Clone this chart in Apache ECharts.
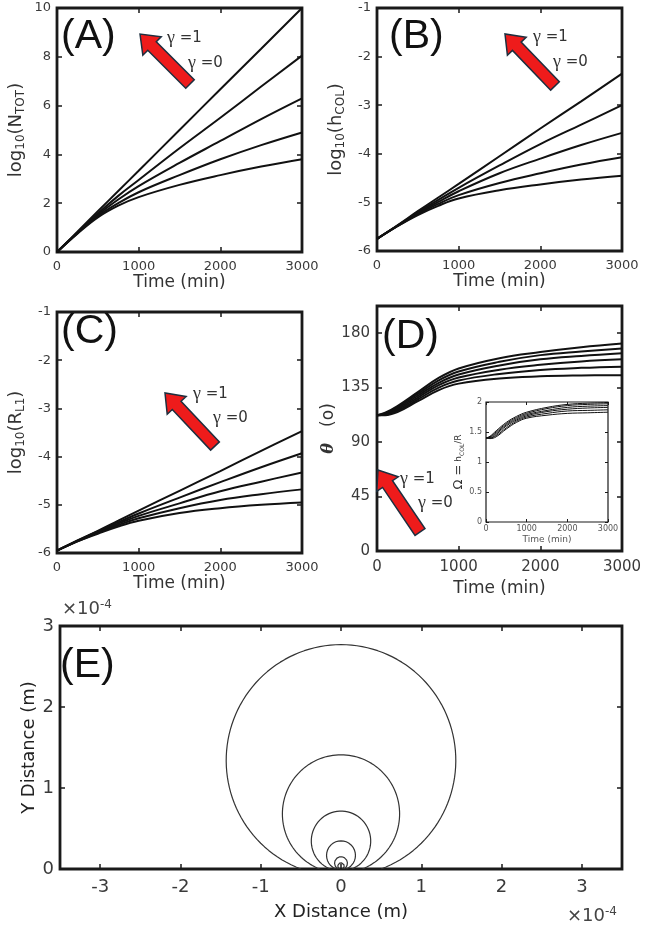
<!DOCTYPE html>
<html>
<head>
<meta charset="utf-8">
<script src="https://cdn.jsdelivr.net/npm/echarts@6/dist/echarts.min.js"></script>
<style>
  html, body { margin: 0; padding: 0; background: #fff; }
  #main { width: 645px; height: 926px; }
</style>
</head>
<body>
<div id="main"></div>
<script>
// sample times (min)
const timeABC = [0, 250, 500, 750, 1000, 1500, 2000, 2500, 3000];
const timeD = [0, 100, 250, 500, 750, 1000, 1500, 2000, 2500, 3000];

// (A) log10(N_TOT), gamma = 1 ... 0
const logNtot = [
  [0, 0.83, 1.67, 2.5, 3.33, 5.0, 6.67, 8.33, 10.0],
  [0, 0.80, 1.58, 2.3, 2.95, 4.25, 5.5, 6.78, 8.05],
  [0, 0.78, 1.52, 2.15, 2.7, 3.65, 4.55, 5.45, 6.3],
  [0, 0.77, 1.47, 2.0, 2.45, 3.15, 3.8, 4.38, 4.9],
  [0, 0.75, 1.42, 1.9, 2.25, 2.75, 3.15, 3.5, 3.8]
];
// (B) log10(h_COL)
const logHcol = [
  [-5.75, -5.47, -5.18, -4.9, -4.62, -4.05, -3.48, -2.92, -2.35],
  [-5.75, -5.48, -5.2, -4.95, -4.7, -4.24, -3.8, -3.4, -3.0],
  [-5.75, -5.48, -5.22, -4.99, -4.77, -4.4, -4.1, -3.82, -3.57],
  [-5.75, -5.49, -5.24, -5.03, -4.85, -4.6, -4.4, -4.22, -4.07],
  [-5.75, -5.49, -5.26, -5.07, -4.92, -4.75, -4.63, -4.53, -4.45]
];
// (C) log10(R_L1)
const logRl1 = [
  [-5.95, -5.74, -5.54, -5.33, -5.12, -4.71, -4.3, -3.88, -3.47],
  [-5.95, -5.75, -5.55, -5.36, -5.18, -4.85, -4.53, -4.22, -3.93],
  [-5.95, -5.75, -5.56, -5.39, -5.23, -4.97, -4.72, -4.52, -4.33],
  [-5.95, -5.76, -5.58, -5.42, -5.28, -5.07, -4.9, -4.78, -4.68],
  [-5.95, -5.76, -5.6, -5.45, -5.33, -5.17, -5.07, -5.0, -4.95]
];
// (D) contact angle theta (deg)
const theta = [
  [112, 114, 119.5, 131, 142.5, 150.5, 159, 164, 168, 171],
  [112, 113.5, 118.5, 129.5, 140.5, 148, 156, 161.5, 164.5, 167],
  [112, 113, 117.5, 128, 138.5, 145.5, 153, 158, 160.8, 163],
  [112, 112.5, 116.5, 126.5, 136.5, 143, 149.5, 153.5, 156.3, 158],
  [112, 112.3, 115.5, 125, 134.5, 140.5, 146, 149.3, 151, 152],
  [112, 112, 114.5, 123.5, 132.5, 138, 142.3, 144, 144.7, 145]
];
// (D inset) Omega = h_COL / R
const omega = [
  [1.40, 1.43, 1.52, 1.66, 1.76, 1.83, 1.91, 1.96, 1.98, 1.99],
  [1.40, 1.42, 1.50, 1.64, 1.74, 1.81, 1.89, 1.94, 1.96, 1.97],
  [1.40, 1.41, 1.48, 1.62, 1.72, 1.79, 1.86, 1.91, 1.93, 1.94],
  [1.40, 1.40, 1.46, 1.60, 1.70, 1.77, 1.84, 1.88, 1.90, 1.91],
  [1.40, 1.40, 1.44, 1.57, 1.68, 1.75, 1.81, 1.85, 1.86, 1.87],
  [1.40, 1.39, 1.42, 1.55, 1.66, 1.73, 1.78, 1.81, 1.82, 1.83]
];
// (E) droplet profiles, spherical caps (units of 1e-4 m)
const dropRadius = [1.43, 0.73, 0.37, 0.18, 0.08, 0.04];
const dropCenterY = [1.34, 0.68, 0.345, 0.168, 0.072, 0.036];

const thetaTicks = [0, 45, 90, 135, 180];
const xTicksE = [-3, -2, -1, 0, 1, 2, 3];

const FONT = 'DejaVu Sans';
const INK = '#1a1a1a';
const grids = [], xAxes = [], yAxes = [], series = [];

function merge(a, b) { return Object.assign({}, a, b || {}); }
function plain(v) { return String(v); }

// one boxed panel: grid + bottom/left axes + mirrored top/right tick axes
function panel(box, o) {
  const gi = grids.length;
  grids.push({
    left: box[0], top: box[1], width: box[2], height: box[3],
    show: true, borderColor: INK, borderWidth: o.border || 2.8, backgroundColor: '#fff'
  });
  const tick = { show: true, inside: true, length: o.tick || 5, lineStyle: { color: INK, width: o.tickW || 1.5 } };
  const lab = { color: '#3a3a3a', fontSize: o.fs || 13, fontFamily: FONT, formatter: plain };
  const base = { gridIndex: gi, type: 'value', axisLine: { show: false, onZero: false }, splitLine: { show: false } };
  const xi = xAxes.length, yi = yAxes.length;
  xAxes.push(merge(base, merge(o.x, {
    position: 'bottom',
    axisTick: merge(tick, o.x.tickExtra),
    axisLabel: merge(lab, o.x.labelExtra),
    nameTextStyle: merge({ color: '#333', fontFamily: FONT, fontSize: o.nfs || 17 }, o.x.nameStyle)
  })));
  xAxes.push(merge(base, merge(o.x, {
    position: 'top', name: '', axisTick: merge(tick, o.x.tickExtra), axisLabel: { show: false }
  })));
  yAxes.push(merge(base, merge(o.y, {
    position: 'left',
    axisTick: merge(tick, o.y.tickExtra),
    axisLabel: merge(lab, o.y.labelExtra),
    nameTextStyle: merge({ color: '#333', fontFamily: FONT, fontSize: o.nfs || 17 }, o.y.nameStyle)
  })));
  yAxes.push(merge(base, merge(o.y, {
    position: 'right', name: '', axisTick: merge(tick, o.y.tickExtra), axisLabel: { show: false }
  })));
  return { xi: xi, yi: yi };
}

function addCurves(ax, t, curves, width) {
  curves.forEach(function (c) {
    series.push({
      type: 'line', xAxisIndex: ax.xi, yAxisIndex: ax.yi, smooth: 0.4,
      showSymbol: false, silent: true,
      lineStyle: { color: '#111', width: width },
      data: t.map(function (v, i) { return [v, c[i]]; })
    });
  });
}

const timeX = {
  min: 0, max: 3000, interval: 1000, name: 'Time (min)',
  nameLocation: 'middle', nameGap: 22, labelExtra: { margin: 8 }
};
const subRich = {
  s: { fontSize: 12, fontFamily: FONT, color: '#333', verticalAlign: 'bottom', padding: [10, 0, 0, 0] }
};

// (A)
const axA = panel([57, 8, 245, 244], {
  x: timeX,
  y: { min: 0, max: 10, interval: 2, name: 'log{s|10}(N{s|TOT})', nameLocation: 'middle', nameGap: 30,
       labelExtra: { margin: 6 }, nameStyle: { fontSize: 18, rich: subRich } }
});
addCurves(axA, timeABC, logNtot, 2);

// (B)
const axB = panel([377, 8, 245, 243], {
  x: timeX,
  y: { min: -6, max: -1, interval: 1, name: 'log{s|10}(h{s|COL})', nameLocation: 'middle', nameGap: 30,
       labelExtra: { margin: 6 }, nameStyle: { fontSize: 18, rich: subRich } }
});
addCurves(axB, timeABC, logHcol, 2);

// (C)
const axC = panel([57, 312, 245, 241], {
  x: timeX,
  y: { min: -6, max: -1, interval: 1, name: 'log{s|10}(R{s|L1})', nameLocation: 'middle', nameGap: 30,
       labelExtra: { margin: 6 }, nameStyle: { fontSize: 18, rich: subRich } }
});
addCurves(axC, timeABC, logRl1, 2);

// (D)
const axD = panel([377, 306, 245, 245], {
  fs: 15,
  x: merge(timeX, { nameGap: 29, labelExtra: { margin: 9 } }),
  y: { min: 0, max: 202, name: '{th|θ}   (o)', nameLocation: 'middle', nameGap: 36,
       tickExtra: { customValues: thetaTicks }, labelExtra: { customValues: thetaTicks, margin: 7 },
       nameStyle: { rich: { th: { fontFamily: 'DejaVu Serif', fontStyle: 'italic', fontWeight: 'bold', fontSize: 16, color: '#333' } } } }
});
addCurves(axD, timeD, theta, 2);

// (D) inset
const axI = panel([486, 402, 122, 120], {
  border: 1.2, tick: 3, tickW: 1, fs: 8, nfs: 9,
  x: { min: 0, max: 3000, interval: 1000, name: 'Time (min)', nameLocation: 'middle', nameGap: 13,
       labelExtra: { margin: 3, color: '#555' }, nameStyle: { color: '#555' } },
  y: { min: 0, max: 2, interval: 0.5, name: '{o|Ω =} h{s|COL}/R', nameLocation: 'middle', nameGap: 16,
       labelExtra: { margin: 4, color: '#555' },
       nameStyle: { color: '#333', rich: {
         o: { fontSize: 13, fontFamily: FONT, color: '#333' },
         s: { fontSize: 6, fontFamily: FONT, color: '#333', verticalAlign: 'bottom', padding: [5, 0, 0, 0] } } } }
});
addCurves(axI, timeD, omega, 1);

// (E)
const axE = panel([60, 626, 562, 243], {
  fs: 18, nfs: 18,
  x: { min: -3.5, max: 3.5, name: 'X Distance (m)', nameLocation: 'middle', nameGap: 34,
       tickExtra: { customValues: xTicksE }, labelExtra: { customValues: xTicksE, margin: 9 },
       nameStyle: { color: '#222' } },
  y: { min: 0, max: 3, interval: 1, name: 'Y Distance (m)', nameLocation: 'middle', nameGap: 22,
       nameMoveOverlap: false, labelExtra: { margin: 6 }, nameStyle: { color: '#222' } }
});
dropRadius.forEach(function (r, k) {
  const cy = dropCenterY[k];
  const a0 = Math.asin(-cy / r), a1 = Math.PI - a0;
  const pts = [];
  for (let i = 0; i <= 120; i++) {
    const a = a0 + (a1 - a0) * i / 120;
    pts.push([r * Math.cos(a), cy + r * Math.sin(a)]);
  }
  series.push({
    type: 'line', xAxisIndex: axE.xi, yAxisIndex: axE.yi, showSymbol: false, silent: true,
    lineStyle: { color: '#333', width: 1.2 }, data: pts
  });
});

// red arrows
function arrow(tip, tail) {
  const sw = 6, hw = 13, hl = 17;
  const dx = tail[0] - tip[0], dy = tail[1] - tip[1], L = Math.hypot(dx, dy);
  const ux = dx / L, uy = dy / L, nx = -uy, ny = ux;
  const hx = tip[0] + ux * hl, hy = tip[1] + uy * hl;
  return {
    type: 'polygon', z: 100,
    shape: { points: [tip, [hx + nx * hw, hy + ny * hw], [hx + nx * sw, hy + ny * sw],
      [tail[0] + nx * sw, tail[1] + ny * sw], [tail[0] - nx * sw, tail[1] - ny * sw],
      [hx - nx * sw, hy - ny * sw], [hx - nx * hw, hy - ny * hw]] },
    style: { fill: '#ee1b1b', stroke: '#1d2f3f', lineWidth: 1.5 }
  };
}
function gammaText(x, y, v) {
  return {
    type: 'text', left: x, top: y, z: 100,
    style: { text: '{g|γ} =' + v, fontSize: 15, fontFamily: FONT, fill: '#333',
      rich: { g: { fontFamily: 'Liberation Serif', fontSize: 18, fill: '#333' } } }
  };
}
function letter(x, y, s) {
  return { type: 'text', left: x, top: y, z: 100,
    style: { text: s, fontSize: 41, fontFamily: 'Liberation Sans', fill: '#111' } };
}
function times10(x, y) {
  return { type: 'text', left: x, top: y, z: 100,
    style: { text: '×10{s|-4}', fontSize: 18, fontFamily: FONT, fill: '#444',
      rich: { s: { fontSize: 12, fontFamily: FONT, fill: '#444', verticalAlign: 'top', padding: [0, 0, 8, 0] } } } };
}

const graphics = [
  letter(61, 16, '(A)'), letter(389, 16, '(B)'), letter(61, 311, '(C)'), letter(382, 316, '(D)'), letter(60, 645, '(E)'),
  arrow([140, 34], [190, 84]), gammaText(167, 29, 1), gammaText(188, 54, 0),
  arrow([505, 34], [555, 86]), gammaText(533, 28, 1), gammaText(553, 53, 0),
  arrow([165, 393], [215, 446]), gammaText(193, 385, 1), gammaText(213, 409, 0),
  arrow([378, 470], [420, 532]), gammaText(400, 470, 1), gammaText(418, 494, 0),
  times10(62, 599), times10(567, 906)
];

const chart = echarts.init(document.getElementById('main'));
chart.setOption({
  animation: false,
  backgroundColor: '#fff',
  grid: grids,
  xAxis: xAxes,
  yAxis: yAxes,
  series: series,
  graphic: graphics
});
</script>
</body>
</html>
